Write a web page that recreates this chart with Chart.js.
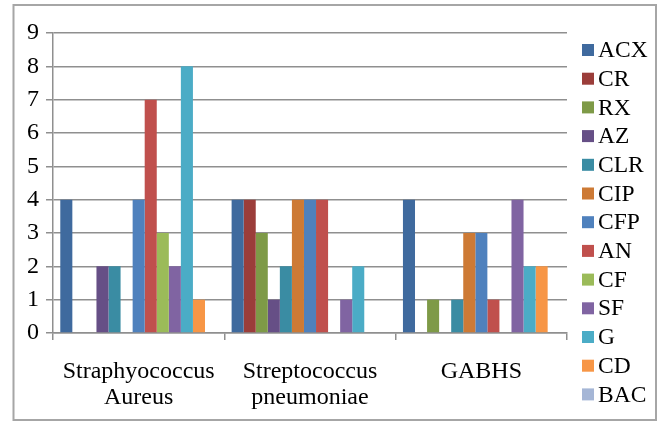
<!DOCTYPE html>
<html>
<head>
<meta charset="utf-8">
<script src="https://cdn.jsdelivr.net/npm/chart.js@4"></script>
<style>
html,body{margin:0;padding:0;background:#fff;}
#wrap{width:667px;height:423px;position:relative;}
</style>
</head>
<body>
<div id="wrap"><canvas id="c" width="667" height="423"></canvas></div>
<script>
const categories = [["Straphyococcus","Aureus"],["Streptococcus","pneumoniae"],["GABHS"]];
const seriesNames = ["ACX","CR","RX","AZ","CLR","CIP","CFP","AN","CF","SF","G","CD","BAC"];
const ACX = [4,4,4];
const CR  = [0,4,0];
const RX  = [0,3,1];
const AZ  = [2,1,0];
const CLR = [2,2,1];
const CIP = [0,4,3];
const CFP = [4,4,3];
const AN  = [7,4,1];
const CF  = [3,0,0];
const SF  = [2,1,4];
const G   = [8,2,2];
const CD  = [1,0,2];
const BAC = [0,0,0];
const seriesValues = [ACX,CR,RX,AZ,CLR,CIP,CFP,AN,CF,SF,G,CD,BAC];
const yTicks = [0,1,2,3,4,5,6,7,8,9];

const colors = ['#3F6A9E','#9B3D3A','#7E9A47','#664F86','#3A8CA3','#CD7A35','#4F81BD','#C0504D','#9BBB59','#8064A2','#4BACC6','#F79646','#A5B6D6'];
const FONT = "'Liberation Serif', 'Times New Roman', serif";
const GRID = '#8f8f8f';

const framePlugin = {
  id: 'frame',
  beforeDraw(chart) {
    const ctx = chart.ctx;
    ctx.save();
    ctx.fillStyle = '#fff';
    ctx.fillRect(0, 0, chart.width, chart.height);
    ctx.strokeStyle = '#a6a6a6';
    ctx.lineWidth = 2;
    ctx.strokeRect(13.5, 5, 642.5, 415);
    ctx.restore();
  },
  afterDraw(chart) {
    const ctx = chart.ctx;
    ctx.save();
    ctx.font = "23.5px " + FONT;
    ctx.textBaseline = 'middle';
    ctx.textAlign = 'left';
    chart.data.datasets.forEach((ds, i) => {
      const yc = 50 + i * 28.7;
      ctx.fillStyle = ds.backgroundColor;
      ctx.fillRect(582, yc - 6, 12, 12);
      ctx.fillStyle = '#000';
      ctx.fillText(ds.label, 598, yc + 1);
    });
    ctx.restore();
  }
};

new Chart(document.getElementById('c'), {
  type: 'bar',
  data: {
    labels: categories,
    datasets: seriesNames.map((n, i) => ({
      label: n,
      data: seriesValues[i],
      backgroundColor: colors[i],
      borderWidth: 0
    }))
  },
  options: {
    responsive: false,
    animation: false,
    devicePixelRatio: 1,
    layout: { padding: { left: 0, right: 100, top: 33, bottom: 0 } },
    plugins: { legend: { display: false }, tooltip: { enabled: false } },
    datasets: { bar: { categoryPercentage: 0.915, barPercentage: 1.0 } },
    scales: {
      x: {
        offset: true,
        grid: { offset: true, drawOnChartArea: false, drawTicks: true, tickLength: 7, color: GRID, lineWidth: 1.5 },
        border: { display: true, color: GRID, width: 1.5 },
        ticks: { color: '#000', font: { family: FONT, size: 24, lineHeight: 1.08 }, padding: 19, maxRotation: 0, autoSkip: false },
        afterFit(scale) { scale.height = 90; }
      },
      y: {
        min: 0, max: 9,
        afterBuildTicks(scale) { scale.ticks = yTicks.map(v => ({ value: v })); },
        grid: { color: GRID, lineWidth: 1.5, drawTicks: true, tickLength: 7 },
        border: { display: true, color: GRID, width: 1.5 },
        ticks: { color: '#000', font: { family: FONT, size: 24 }, padding: 7 },
        afterFit(scale) { scale.width = 53; }
      }
    }
  },
  plugins: [framePlugin]
});
</script>
</body>
</html>
